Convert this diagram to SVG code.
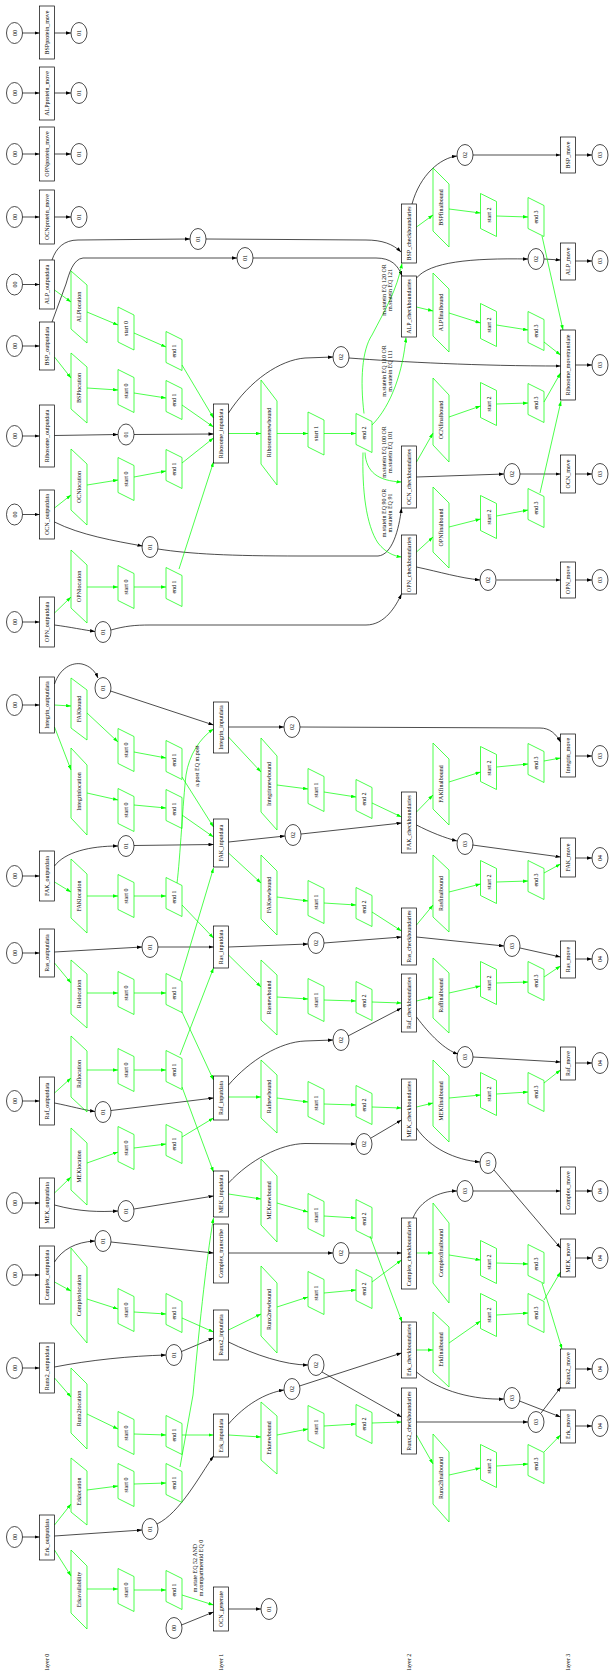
<svg xmlns="http://www.w3.org/2000/svg" xmlns:xlink="http://www.w3.org/1999/xlink" width="610" height="1672" viewBox="0 0 610 1672">
<style>
.r{fill:none;stroke:#000;stroke-width:.7}
.p{fill:none;stroke:#0f0;stroke-width:.7}
.t{font-family:"Liberation Serif","Times New Roman",serif;font-size:6px;text-anchor:middle;fill:#000}
.k{fill:none;stroke:#000;stroke-width:.7;marker-end:url(#ak)}
.g{fill:none;stroke:#0f0;stroke-width:.7;marker-end:url(#ag)}
</style>
<defs>
<marker id="ak" viewBox="0 0 10 7" refX="10" refY="3.5" markerWidth="5" markerHeight="3.5" markerUnits="userSpaceOnUse" orient="auto"><path d="M0,0L10,3.5L0,7z" fill="#000"/></marker>
<marker id="ag" viewBox="0 0 10 7" refX="10" refY="3.5" markerWidth="5" markerHeight="3.5" markerUnits="userSpaceOnUse" orient="auto"><path d="M0,0L10,3.5L0,7z" fill="#0f0"/></marker>
<ellipse id="el" cx="0" cy="0" rx="8" ry="10.5" fill="none" stroke="#000" stroke-width="0.7"/>
<polygon id="st" points="-8,-21.5 8,-13.5 8,21.5 -8,13.5" fill="none" stroke="#0f0" stroke-width="0.7"/>
<polygon id="en" points="-8,-19.5 8,-11.5 8,19.5 -8,11.5" fill="none" stroke="#0f0" stroke-width="0.7"/>
</defs>
<rect width="610" height="1672" fill="#fff"/>
<g id="edges">
<path class="k" d="M22.5,33H39.5"/><path class="k" d="M54.5,33H71"/>
<path class="k" d="M22.5,93H39.5"/><path class="k" d="M54.5,93H71"/>
<path class="k" d="M22.5,154H39.5"/><path class="k" d="M54.5,154H71"/>
<path class="k" d="M22.5,217H39.5"/><path class="k" d="M54.5,217H71"/>
<path class="k" d="M22.5,284.5H39.5"/><path class="k" d="M22.5,346H39.5"/><path class="k" d="M22.5,436H39.5"/><path class="k" d="M22.5,514.5H39.5"/><path class="k" d="M22.5,622H39.5"/><path class="k" d="M22.5,705H39.5"/><path class="k" d="M22.5,876H39.5"/><path class="k" d="M22.5,953H39.5"/><path class="k" d="M22.5,1101H39.5"/><path class="k" d="M22.5,1203H39.5"/><path class="k" d="M22.5,1275H39.5"/><path class="k" d="M22.5,1368H39.5"/><path class="k" d="M22.5,1537H39.5"/>
<path class="k" d="M52,260C56,248 64,240 78,240L190,239"/>
<path class="k" d="M206,239L366,240C382,240 393,244 401,252"/>
<path class="k" d="M52,322L66,284C69,274 73,259 83,258L237,258"/>
<path class="k" d="M253,258L376,258C391,258 398,265 402,276"/>
<path class="k" d="M54.5,435.5L118,434.5"/>
<path class="k" d="M134,434.5L213.5,434"/>
<path class="k" d="M54.5,522C80,535 115,541 142.5,546"/>
<path class="k" d="M158,549C190,554 230,556 300,556L378,556C392,555 399,530 401.5,508"/>
<path class="k" d="M54.5,625C70,627 84,630 95,631.5"/>
<path class="k" d="M111,630C125,626 135,625 150,625L366,625C385,625 396,606 401.5,594"/>
<path class="k" d="M54.5,684C60,668 72,662 82,664C90,666 95,671 98,678"/>
<path class="k" d="M110.5,691L213.5,725"/>
<path class="k" d="M54.5,866C65,852 90,846 118,846"/>
<path class="k" d="M134,845.5L213.5,844.5"/>
<path class="k" d="M54.5,952L142,947"/>
<path class="k" d="M158,947L213.5,947"/>
<path class="k" d="M54.5,1103C70,1106 84,1110 95,1111.5"/>
<path class="k" d="M111,1110.5L213.5,1098"/>
<path class="k" d="M54.5,1205C80,1212 100,1212 118,1211"/>
<path class="k" d="M134,1209L213.5,1196"/>
<path class="k" d="M54.5,1262C62,1250 75,1242 95,1241"/>
<path class="k" d="M111,1242L213.5,1253"/>
<path class="k" d="M54.5,1367C90,1360 130,1356 166,1355"/>
<path class="k" d="M181.5,1351.5L213.5,1338"/>
<path class="k" d="M54.5,1536L142,1530"/>
<path class="k" d="M157,1524C180,1513 200,1475 213.5,1456"/>
<path class="k" d="M181.5,1625L213.5,1612"/>
<path class="k" d="M228.5,413C250,380 280,360 305,358L333,357"/>
<path class="k" d="M349,358C400,362 480,366 560.5,366"/>
<path class="k" d="M228.5,727L284,727"/>
<path class="k" d="M300,727L540,728C550,728 556,734 560.5,742"/>
<path class="k" d="M228.5,842L285,836"/>
<path class="k" d="M301,834L401.5,823"/>
<path class="k" d="M228.5,947L308,944"/>
<path class="k" d="M324,943L401.5,937"/>
<path class="k" d="M228.5,1085C250,1060 280,1042 305,1041L333,1040"/>
<path class="k" d="M348,1036L401.5,1008"/>
<path class="k" d="M228.5,1183C250,1160 280,1144 305,1143.5L356,1144"/>
<path class="k" d="M371,1138L401.5,1120"/>
<path class="k" d="M228.5,1253L333,1253"/>
<path class="k" d="M349,1253L401.5,1253"/>
<path class="k" d="M228.5,1342C255,1355 285,1365 308,1365"/>
<path class="k" d="M322,1372L401.5,1417"/>
<path class="k" d="M228.5,1424C245,1405 265,1393 284,1390"/>
<path class="k" d="M299.5,1386L401.5,1353"/>
<path class="k" d="M228.5,1609L261,1609"/>
<path class="k" d="M412,204C420,175 440,158 457,156"/>
<path class="k" d="M473,155L560.5,155"/>
<path class="k" d="M416.5,278C430,262 470,258 528,259"/>
<path class="k" d="M544,259L560.5,260"/>
<path class="k" d="M416.5,477L504,474"/>
<path class="k" d="M520,474L560.5,474"/>
<path class="k" d="M416.5,567C440,572 460,578 480,580"/>
<path class="k" d="M496.5,580L560.5,580"/>
<path class="k" d="M416.5,825C430,832 445,838 457,841"/>
<path class="k" d="M472.5,845L560.5,857"/>
<path class="k" d="M416.5,937L504,946"/>
<path class="k" d="M520,948L560.5,957"/>
<path class="k" d="M416.5,1017C430,1035 445,1050 458,1054"/>
<path class="k" d="M473,1057L560.5,1062"/>
<path class="k" d="M416.5,1128C430,1148 455,1160 480,1162"/>
<path class="k" d="M494,1170L560.5,1248"/>
<path class="k" d="M413,1218C420,1200 440,1191 457,1191"/>
<path class="k" d="M473,1191L560.5,1191"/>
<path class="k" d="M416.5,1372C440,1392 475,1400 504,1399"/>
<path class="k" d="M519.5,1401L560.5,1417"/>
<path class="k" d="M416.5,1422L528,1422"/>
<path class="k" d="M541,1413L561,1387"/>
<path class="k" d="M575.5,155H592"/><path class="k" d="M575.5,261H592"/><path class="k" d="M575.5,365H592"/><path class="k" d="M575.5,474H592"/><path class="k" d="M575.5,580H592"/><path class="k" d="M575.5,756H592"/><path class="k" d="M575.5,858H592"/><path class="k" d="M575.5,959H592"/><path class="k" d="M575.5,1063H592"/><path class="k" d="M575.5,1191H592"/><path class="k" d="M575.5,1258H592"/><path class="k" d="M575.5,1369H592"/><path class="k" d="M575.5,1426H592"/>
<path class="g" d="M54.5,290L71,302"/><path class="g" d="M87,312L118,325"/><path class="g" d="M134,333L166,347"/><path class="g" d="M182,365L213.5,418"/>
<path class="g" d="M54.5,357L71,378"/><path class="g" d="M87,388L118,390"/><path class="g" d="M134,393L166,398"/><path class="g" d="M182,405L213.5,427"/>
<path class="g" d="M54.5,508L71,495"/><path class="g" d="M87,485L118,480"/><path class="g" d="M134,477L166,471"/><path class="g" d="M182,463L213.5,438"/>
<path class="g" d="M54.5,613L71,597"/><path class="g" d="M87,587L118,587"/><path class="g" d="M134,587L166,587"/><path class="g" d="M179,569L213.5,462"/>
<path class="g" d="M54.5,705L71,706"/><path class="g" d="M54.5,727L71,770"/><path class="g" d="M87,713L118,742"/><path class="g" d="M134,752L166,758"/><path class="g" d="M182,777L213.5,827"/>
<path class="g" d="M87,793L118,800"/><path class="g" d="M134,805L166,808"/><path class="g" d="M182,815L213.5,837"/>
<path class="g" d="M54.5,882L71,892"/><path class="g" d="M87,896L118,896"/><path class="g" d="M134,896L166,896"/><path class="g" d="M182,905L213.5,938"/>
<path class="g" d="M177,883C180,860 183,800 186,775C189,755 200,738 213.5,729"/>
<path class="g" d="M54.5,963L71,983"/><path class="g" d="M87,993L118,993"/><path class="g" d="M134,993L166,993"/><path class="g" d="M180,980L213.5,868"/><path class="g" d="M182,1012L213.5,1080"/>
<path class="g" d="M54.5,1093L71,1078"/><path class="g" d="M87,1070L118,1070"/><path class="g" d="M134,1070L166,1070"/><path class="g" d="M180,1055L213.5,968"/><path class="g" d="M182,1087L213.5,1172"/>
<path class="g" d="M54.5,1193L71,1177"/><path class="g" d="M87,1163L118,1152"/><path class="g" d="M134,1148L166,1144"/><path class="g" d="M182,1137L213.5,1118"/>
<path class="g" d="M54.5,1282L71,1291"/><path class="g" d="M87,1299L118,1309"/><path class="g" d="M134,1312L166,1314"/><path class="g" d="M182,1318L213.5,1332"/>
<path class="g" d="M54.5,1378L71,1397"/><path class="g" d="M87,1414L118,1429"/><path class="g" d="M134,1434L166,1435"/><path class="g" d="M182,1435L213.5,1435"/>
<path class="g" d="M54.5,1525L71,1504"/><path class="g" d="M87,1490L118,1486"/><path class="g" d="M134,1484L166,1483"/><path class="g" d="M180,1467L193,1395C198,1340 206,1260 213.5,1218"/>
<path class="g" d="M54.5,1550L71,1576"/><path class="g" d="M87,1589L118,1589"/><path class="g" d="M134,1590L166,1590"/><path class="g" d="M182,1595L213.5,1605"/>
<path class="g" d="M228.5,433.5L261,433.5"/><path class="g" d="M277,433.5L308,433.5"/><path class="g" d="M324,433.5L356,433.5"/>
<path class="g" d="M372,425C392,405 403,370 406,337.5"/>
<path class="g" d="M364,413.5C360,380 362,350 372,335C385,310 397,290 402,263.5"/>
<path class="g" d="M365,452.5C366,472 378,481 401.5,482"/>
<path class="g" d="M363,452.5C362,490 366,525 378,543C386,553 394,556 401.5,557"/>
<path class="g" d="M228.5,737L261,772"/><path class="g" d="M277,785L308,789"/><path class="g" d="M324,792L356,797"/><path class="g" d="M372,803L401.5,817"/>
<path class="g" d="M228.5,853L261,883"/><path class="g" d="M277,897L308,901"/><path class="g" d="M324,903L356,905"/><path class="g" d="M372,912L401.5,931"/>
<path class="g" d="M228.5,955L261,987"/><path class="g" d="M277,997L308,999"/><path class="g" d="M324,1000L356,1001"/><path class="g" d="M372,1002L401.5,1003"/>
<path class="g" d="M228.5,1097L261,1097"/><path class="g" d="M277,1098L308,1102"/><path class="g" d="M324,1104L356,1105"/><path class="g" d="M372,1107L401.5,1108"/>
<path class="g" d="M228.5,1194L261,1199"/><path class="g" d="M277,1203L308,1212"/><path class="g" d="M324,1216L356,1218"/><path class="g" d="M370,1236L402,1322"/>
<path class="g" d="M228.5,1330L261,1314"/><path class="g" d="M277,1307L308,1297"/><path class="g" d="M324,1293L356,1290"/><path class="g" d="M372,1282L401.5,1260"/>
<path class="g" d="M228.5,1435L261,1437"/><path class="g" d="M277,1435L308,1429"/><path class="g" d="M324,1426L356,1424"/><path class="g" d="M372,1423L401.5,1422"/>
<path class="g" d="M416.5,227L433,215"/><path class="g" d="M449,209L480.5,213"/><path class="g" d="M496.5,216L528,217"/><path class="g" d="M542,236L563,330"/>
<path class="g" d="M416.5,307L433,311"/><path class="g" d="M449,313L480.5,323"/><path class="g" d="M496.5,325L528,330"/><path class="g" d="M544,342L560.5,355"/>
<path class="g" d="M416.5,462L433,433"/><path class="g" d="M449,417L480.5,406"/><path class="g" d="M496.5,404L528,403"/><path class="g" d="M544,402L560.5,373"/>
<path class="g" d="M416.5,552L433,537"/><path class="g" d="M449,527L480.5,519"/><path class="g" d="M496.5,516L528,510"/><path class="g" d="M540,493L561,401"/>
<path class="g" d="M416.5,812L433,795"/><path class="g" d="M449,782L480.5,772"/><path class="g" d="M496.5,767L528,764"/><path class="g" d="M544,761L560.5,758"/>
<path class="g" d="M416.5,925L433,905"/><path class="g" d="M449,892L480.5,884"/><path class="g" d="M496.5,882L528,881"/><path class="g" d="M544,873L560.5,864"/>
<path class="g" d="M416.5,1001L433,997"/><path class="g" d="M449,993L480.5,986"/><path class="g" d="M496.5,983L528,982"/><path class="g" d="M544,977L560.5,966"/>
<path class="g" d="M416.5,1107L433,1103"/><path class="g" d="M449,1098L480.5,1095"/><path class="g" d="M496.5,1094L528,1092"/><path class="g" d="M544,1083L560.5,1070"/>
<path class="g" d="M416.5,1253L433,1253"/><path class="g" d="M449,1255L480.5,1260"/><path class="g" d="M496.5,1263L528,1264"/><path class="g" d="M542,1283L562,1349"/>
<path class="g" d="M416.5,1350L433,1350"/><path class="g" d="M449,1343L480.5,1321"/><path class="g" d="M496.5,1315L528,1313"/><path class="g" d="M544,1300L560.5,1272"/>
<path class="g" d="M416.5,1435L433,1464"/><path class="g" d="M449,1475L480.5,1468"/><path class="g" d="M496.5,1466L528,1464"/><path class="g" d="M544,1452L560.5,1435"/>
<g id="edge-labels">
<text class="t" transform="translate(199,766) rotate(-90)">a.post EQ m.post</text>
<text class="t" transform="translate(197,1568) rotate(-90)">m.state EQ 52 AND</text>
<text class="t" transform="translate(203,1568) rotate(-90)">m.compartmentid EQ 0</text>
<text class="t" transform="translate(386,290) rotate(-90)">m.statein EQ 120 OR</text>
<text class="t" transform="translate(392,290) rotate(-90)">m.statein EQ 121</text>
<text class="t" transform="translate(386,371) rotate(-90)">m.statein EQ 110 OR</text>
<text class="t" transform="translate(392,371) rotate(-90)">m.statein EQ 111</text>
<text class="t" transform="translate(386,452) rotate(-90)">m.statein EQ 100 OR</text>
<text class="t" transform="translate(392,452) rotate(-90)">m.statein EQ 101</text>
<text class="t" transform="translate(386,513) rotate(-90)">m.statein EQ 90 OR</text>
<text class="t" transform="translate(392,513) rotate(-90)">m.statein EQ 91</text>
</g>
</g>
<g id="ellipses">
<g id="e0_33"><use href="#el" x="14.5" y="33"/><text class="t" transform="translate(16.5,33) rotate(-90)">00</text></g>
<g id="e0_93"><use href="#el" x="14.5" y="93"/><text class="t" transform="translate(16.5,93) rotate(-90)">00</text></g>
<g id="e0_154"><use href="#el" x="14.5" y="154"/><text class="t" transform="translate(16.5,154) rotate(-90)">00</text></g>
<g id="e0_217"><use href="#el" x="14.5" y="217"/><text class="t" transform="translate(16.5,217) rotate(-90)">00</text></g>
<g id="e0_284"><use href="#el" x="14.5" y="284.5"/><text class="t" transform="translate(16.5,284.5) rotate(-90)">00</text></g>
<g id="e0_346"><use href="#el" x="14.5" y="346"/><text class="t" transform="translate(16.5,346) rotate(-90)">00</text></g>
<g id="e0_436"><use href="#el" x="14.5" y="436"/><text class="t" transform="translate(16.5,436) rotate(-90)">00</text></g>
<g id="e0_514"><use href="#el" x="14.5" y="514.5"/><text class="t" transform="translate(16.5,514.5) rotate(-90)">00</text></g>
<g id="e0_622"><use href="#el" x="14.5" y="622"/><text class="t" transform="translate(16.5,622) rotate(-90)">00</text></g>
<g id="e0_705"><use href="#el" x="14.5" y="705"/><text class="t" transform="translate(16.5,705) rotate(-90)">00</text></g>
<g id="e0_876"><use href="#el" x="14.5" y="876"/><text class="t" transform="translate(16.5,876) rotate(-90)">00</text></g>
<g id="e0_953"><use href="#el" x="14.5" y="953"/><text class="t" transform="translate(16.5,953) rotate(-90)">00</text></g>
<g id="e0_1101"><use href="#el" x="14.5" y="1101"/><text class="t" transform="translate(16.5,1101) rotate(-90)">00</text></g>
<g id="e0_1203"><use href="#el" x="14.5" y="1203"/><text class="t" transform="translate(16.5,1203) rotate(-90)">00</text></g>
<g id="e0_1275"><use href="#el" x="14.5" y="1275"/><text class="t" transform="translate(16.5,1275) rotate(-90)">00</text></g>
<g id="e0_1368"><use href="#el" x="14.5" y="1368"/><text class="t" transform="translate(16.5,1368) rotate(-90)">00</text></g>
<g id="e0_1537"><use href="#el" x="14.5" y="1537"/><text class="t" transform="translate(16.5,1537) rotate(-90)">00</text></g>
<g id="e1_33"><use href="#el" x="79" y="33"/><text class="t" transform="translate(81,33) rotate(-90)">01</text></g>
<g id="e1_93"><use href="#el" x="79" y="93"/><text class="t" transform="translate(81,93) rotate(-90)">01</text></g>
<g id="e1_154"><use href="#el" x="79" y="154"/><text class="t" transform="translate(81,154) rotate(-90)">01</text></g>
<g id="e1_217"><use href="#el" x="79" y="217"/><text class="t" transform="translate(81,217) rotate(-90)">01</text></g>
<g id="e1_alp"><use href="#el" x="198" y="239"/><text class="t" transform="translate(200,239) rotate(-90)">01</text></g>
<g id="e1_bsp"><use href="#el" x="245" y="258"/><text class="t" transform="translate(247,258) rotate(-90)">01</text></g>
<g id="e1_ribo"><use href="#el" x="126" y="434.5"/><text class="t" transform="translate(128,434.5) rotate(-90)">01</text></g>
<g id="e1_ocn"><use href="#el" x="150" y="547"/><text class="t" transform="translate(152,547) rotate(-90)">01</text></g>
<g id="e1_opn"><use href="#el" x="103" y="632"/><text class="t" transform="translate(105,632) rotate(-90)">01</text></g>
<g id="e1_integ"><use href="#el" x="103" y="688"/><text class="t" transform="translate(105,688) rotate(-90)">01</text></g>
<g id="e1_fak"><use href="#el" x="126" y="846"/><text class="t" transform="translate(128,846) rotate(-90)">01</text></g>
<g id="e1_ras"><use href="#el" x="150" y="947"/><text class="t" transform="translate(152,947) rotate(-90)">01</text></g>
<g id="e1_raf"><use href="#el" x="103" y="1112"/><text class="t" transform="translate(105,1112) rotate(-90)">01</text></g>
<g id="e1_mek"><use href="#el" x="126" y="1211"/><text class="t" transform="translate(128,1211) rotate(-90)">01</text></g>
<g id="e1_complex"><use href="#el" x="103" y="1241"/><text class="t" transform="translate(105,1241) rotate(-90)">01</text></g>
<g id="e1_runx2"><use href="#el" x="174" y="1355"/><text class="t" transform="translate(176,1355) rotate(-90)">01</text></g>
<g id="e1_erk"><use href="#el" x="150" y="1529"/><text class="t" transform="translate(152,1529) rotate(-90)">01</text></g>
<g id="e2_ribo"><use href="#el" x="341" y="357"/><text class="t" transform="translate(343,357) rotate(-90)">02</text></g>
<g id="e2_integ"><use href="#el" x="292" y="727"/><text class="t" transform="translate(294,727) rotate(-90)">02</text></g>
<g id="e2_fak"><use href="#el" x="293" y="835"/><text class="t" transform="translate(295,835) rotate(-90)">02</text></g>
<g id="e2_ras"><use href="#el" x="316" y="943"/><text class="t" transform="translate(318,943) rotate(-90)">02</text></g>
<g id="e2_raf"><use href="#el" x="341" y="1040"/><text class="t" transform="translate(343,1040) rotate(-90)">02</text></g>
<g id="e2_mek"><use href="#el" x="364" y="1144"/><text class="t" transform="translate(366,1144) rotate(-90)">02</text></g>
<g id="e2_complex"><use href="#el" x="341" y="1253"/><text class="t" transform="translate(343,1253) rotate(-90)">02</text></g>
<g id="e2_runx2"><use href="#el" x="316" y="1365"/><text class="t" transform="translate(318,1365) rotate(-90)">02</text></g>
<g id="e2_erk"><use href="#el" x="292" y="1389"/><text class="t" transform="translate(294,1389) rotate(-90)">02</text></g>
<g id="e_ocngen_00"><use href="#el" x="174" y="1628"/><text class="t" transform="translate(176,1628) rotate(-90)">00</text></g>
<g id="e_ocngen_01"><use href="#el" x="269" y="1609"/><text class="t" transform="translate(271,1609) rotate(-90)">01</text></g>
<g id="e2_bsp"><use href="#el" x="465" y="155"/><text class="t" transform="translate(467,155) rotate(-90)">02</text></g>
<g id="e2_alp"><use href="#el" x="536" y="259"/><text class="t" transform="translate(538,259) rotate(-90)">02</text></g>
<g id="e2_ocn"><use href="#el" x="512" y="474"/><text class="t" transform="translate(514,474) rotate(-90)">02</text></g>
<g id="e2_opn"><use href="#el" x="488" y="580"/><text class="t" transform="translate(490,580) rotate(-90)">02</text></g>
<g id="e3_fak"><use href="#el" x="465" y="844"/><text class="t" transform="translate(467,844) rotate(-90)">03</text></g>
<g id="e3_ras"><use href="#el" x="512" y="946"/><text class="t" transform="translate(514,946) rotate(-90)">03</text></g>
<g id="e3_raf"><use href="#el" x="465" y="1057"/><text class="t" transform="translate(467,1057) rotate(-90)">03</text></g>
<g id="e3_mek"><use href="#el" x="488" y="1163"/><text class="t" transform="translate(490,1163) rotate(-90)">03</text></g>
<g id="e3_complex"><use href="#el" x="465" y="1191"/><text class="t" transform="translate(467,1191) rotate(-90)">03</text></g>
<g id="e3_erk"><use href="#el" x="512" y="1398"/><text class="t" transform="translate(514,1398) rotate(-90)">03</text></g>
<g id="e3_runx2"><use href="#el" x="536" y="1422"/><text class="t" transform="translate(538,1422) rotate(-90)">03</text></g>
<g id="m3_155"><use href="#el" x="600" y="155"/><text class="t" transform="translate(602,155) rotate(-90)">03</text></g>
<g id="m3_261"><use href="#el" x="600" y="261"/><text class="t" transform="translate(602,261) rotate(-90)">03</text></g>
<g id="m3_365"><use href="#el" x="600" y="365"/><text class="t" transform="translate(602,365) rotate(-90)">03</text></g>
<g id="m3_474"><use href="#el" x="600" y="474"/><text class="t" transform="translate(602,474) rotate(-90)">03</text></g>
<g id="m3_580"><use href="#el" x="600" y="580"/><text class="t" transform="translate(602,580) rotate(-90)">03</text></g>
<g id="m3_756"><use href="#el" x="600" y="756"/><text class="t" transform="translate(602,756) rotate(-90)">03</text></g>
<g id="m4_858"><use href="#el" x="600" y="858"/><text class="t" transform="translate(602,858) rotate(-90)">04</text></g>
<g id="m4_959"><use href="#el" x="600" y="959"/><text class="t" transform="translate(602,959) rotate(-90)">04</text></g>
<g id="m4_1063"><use href="#el" x="600" y="1063"/><text class="t" transform="translate(602,1063) rotate(-90)">04</text></g>
<g id="m4_1191"><use href="#el" x="600" y="1191"/><text class="t" transform="translate(602,1191) rotate(-90)">04</text></g>
<g id="m4_1258"><use href="#el" x="600" y="1258"/><text class="t" transform="translate(602,1258) rotate(-90)">04</text></g>
<g id="m4_1369"><use href="#el" x="600" y="1369"/><text class="t" transform="translate(602,1369) rotate(-90)">04</text></g>
<g id="m4_1426"><use href="#el" x="600" y="1426"/><text class="t" transform="translate(602,1426) rotate(-90)">04</text></g>
</g>
<g id="rects">
<g id="BSPprotein_move"><rect class="r" x="39.5" y="6" width="15" height="53"/><text class="t" transform="translate(49,32.5) rotate(-90)">BSPprotein_move</text></g>
<g id="ALPprotein_move"><rect class="r" x="39.5" y="67" width="15" height="53"/><text class="t" transform="translate(49,93.5) rotate(-90)">ALPprotein_move</text></g>
<g id="OPNprotein_move"><rect class="r" x="39.5" y="127" width="15" height="54"/><text class="t" transform="translate(49,154) rotate(-90)">OPNprotein_move</text></g>
<g id="OCNprotein_move"><rect class="r" x="39.5" y="190" width="15" height="54"/><text class="t" transform="translate(49,217) rotate(-90)">OCNprotein_move</text></g>
<g id="ALP_outputdata"><rect class="r" x="39.5" y="260" width="15" height="49"/><text class="t" transform="translate(49,284.5) rotate(-90)">ALP_outputdata</text></g>
<g id="BSP_outputdata"><rect class="r" x="39.5" y="322" width="15" height="48"/><text class="t" transform="translate(49,346) rotate(-90)">BSP_outputdata</text></g>
<g id="Ribosome_outputdata"><rect class="r" x="39.5" y="405" width="15" height="62"/><text class="t" transform="translate(49,436) rotate(-90)">Ribosome_outputdata</text></g>
<g id="OCN_outputdata"><rect class="r" x="39.5" y="490" width="15" height="49"/><text class="t" transform="translate(49,514.5) rotate(-90)">OCN_outputdata</text></g>
<g id="OPN_outputdata"><rect class="r" x="39.5" y="597" width="15" height="50"/><text class="t" transform="translate(49,622) rotate(-90)">OPN_outputdata</text></g>
<g id="Integrin_outputdata"><rect class="r" x="39.5" y="677" width="15" height="56"/><text class="t" transform="translate(49,705) rotate(-90)">Integrin_outputdata</text></g>
<g id="FAK_outputdata"><rect class="r" x="39.5" y="851" width="15" height="50"/><text class="t" transform="translate(49,876) rotate(-90)">FAK_outputdata</text></g>
<g id="Ras_outputdata"><rect class="r" x="39.5" y="929" width="15" height="48"/><text class="t" transform="translate(49,953) rotate(-90)">Ras_outputdata</text></g>
<g id="Raf_outputdata"><rect class="r" x="39.5" y="1077" width="15" height="48"/><text class="t" transform="translate(49,1101) rotate(-90)">Raf_outputdata</text></g>
<g id="MEK_outputdata"><rect class="r" x="39.5" y="1178" width="15" height="50"/><text class="t" transform="translate(49,1203) rotate(-90)">MEK_outputdata</text></g>
<g id="Complex_outputdata"><rect class="r" x="39.5" y="1246" width="15" height="58"/><text class="t" transform="translate(49,1275) rotate(-90)">Complex_outputdata</text></g>
<g id="Runx2_outputdata"><rect class="r" x="39.5" y="1343" width="15" height="50"/><text class="t" transform="translate(49,1368) rotate(-90)">Runx2_outputdata</text></g>
<g id="Erk_outputdata"><rect class="r" x="39.5" y="1515" width="15" height="45"/><text class="t" transform="translate(49,1537.5) rotate(-90)">Erk_outputdata</text></g>
<g id="Ribosome_inputdata"><rect class="r" x="213.5" y="404" width="15" height="59"/><text class="t" transform="translate(223,433.5) rotate(-90)">Ribosome_inputdata</text></g>
<g id="Integrin_inputdata"><rect class="r" x="213.5" y="702" width="15" height="51"/><text class="t" transform="translate(223,727.5) rotate(-90)">Integrin_inputdata</text></g>
<g id="FAK_inputdata"><rect class="r" x="213.5" y="819" width="15" height="48"/><text class="t" transform="translate(223,843) rotate(-90)">FAK_inputdata</text></g>
<g id="Ras_inputdata"><rect class="r" x="213.5" y="926" width="15" height="42"/><text class="t" transform="translate(223,947) rotate(-90)">Ras_inputdata</text></g>
<g id="Raf_inputdata"><rect class="r" x="213.5" y="1076" width="15" height="44"/><text class="t" transform="translate(223,1098) rotate(-90)">Raf_inputdata</text></g>
<g id="MEK_inputdata"><rect class="r" x="213.5" y="1171" width="15" height="46"/><text class="t" transform="translate(223,1194) rotate(-90)">MEK_inputdata</text></g>
<g id="Complex_transcribe"><rect class="r" x="213.5" y="1224" width="15" height="59"/><text class="t" transform="translate(223,1253.5) rotate(-90)">Complex_transcribe</text></g>
<g id="Runx2_inputdata"><rect class="r" x="213.5" y="1310" width="15" height="50"/><text class="t" transform="translate(223,1335) rotate(-90)">Runx2_inputdata</text></g>
<g id="Erk_inputdata"><rect class="r" x="213.5" y="1414" width="15" height="43"/><text class="t" transform="translate(223,1435.5) rotate(-90)">Erk_inputdata</text></g>
<g id="OCN_generate"><rect class="r" x="213.5" y="1587" width="15" height="44"/><text class="t" transform="translate(223,1609) rotate(-90)">OCN_generate</text></g>
<g id="BSP_checkboundaries"><rect class="r" x="401.5" y="204" width="15" height="59"/><text class="t" transform="translate(411,233.5) rotate(-90)">BSP_checkboundaries</text></g>
<g id="ALP_checkboundaries"><rect class="r" x="401.5" y="276" width="15" height="61"/><text class="t" transform="translate(411,306.5) rotate(-90)">ALP_checkboundaries</text></g>
<g id="OCN_checkboundaries"><rect class="r" x="401.5" y="446" width="15" height="62"/><text class="t" transform="translate(411,477) rotate(-90)">OCN_checkboundaries</text></g>
<g id="OPN_checkboundaries"><rect class="r" x="401.5" y="535" width="15" height="59"/><text class="t" transform="translate(411,564.5) rotate(-90)">OPN_checkboundaries</text></g>
<g id="FAK_checkboundaries"><rect class="r" x="401.5" y="792" width="15" height="61"/><text class="t" transform="translate(411,822.5) rotate(-90)">FAK_checkboundaries</text></g>
<g id="Ras_checkboundaries"><rect class="r" x="401.5" y="908" width="15" height="57"/><text class="t" transform="translate(411,936.5) rotate(-90)">Ras_checkboundaries</text></g>
<g id="Raf_checkboundaries"><rect class="r" x="401.5" y="974" width="15" height="58"/><text class="t" transform="translate(411,1003) rotate(-90)">Raf_checkboundaries</text></g>
<g id="MEK_checkboundaries"><rect class="r" x="401.5" y="1079" width="15" height="61"/><text class="t" transform="translate(411,1109.5) rotate(-90)">MEK_checkboundaries</text></g>
<g id="Complex_checkboundaries"><rect class="r" x="401.5" y="1218" width="15" height="71"/><text class="t" transform="translate(411,1253.5) rotate(-90)">Complex_checkboundaries</text></g>
<g id="Erk_checkboundaries"><rect class="r" x="401.5" y="1322" width="15" height="56"/><text class="t" transform="translate(411,1350) rotate(-90)">Erk_checkboundaries</text></g>
<g id="Runx2_checkboundaries"><rect class="r" x="401.5" y="1388" width="15" height="66"/><text class="t" transform="translate(411,1421) rotate(-90)">Runx2_checkboundaries</text></g>
<g id="BSP_move"><rect class="r" x="560.5" y="137" width="15" height="36"/><text class="t" transform="translate(570,155) rotate(-90)">BSP_move</text></g>
<g id="ALP_move"><rect class="r" x="560.5" y="243" width="15" height="37"/><text class="t" transform="translate(570,261.5) rotate(-90)">ALP_move</text></g>
<g id="Ribosome_movetranslate"><rect class="r" x="560.5" y="330" width="15" height="70"/><text class="t" transform="translate(570,365) rotate(-90)">Ribosome_movetranslate</text></g>
<g id="OCN_move"><rect class="r" x="560.5" y="455" width="15" height="38"/><text class="t" transform="translate(570,474) rotate(-90)">OCN_move</text></g>
<g id="OPN_move"><rect class="r" x="560.5" y="562" width="15" height="36"/><text class="t" transform="translate(570,580) rotate(-90)">OPN_move</text></g>
<g id="Integrin_move"><rect class="r" x="560.5" y="734" width="15" height="43"/><text class="t" transform="translate(570,755.5) rotate(-90)">Integrin_move</text></g>
<g id="FAK_move"><rect class="r" x="560.5" y="838" width="15" height="39"/><text class="t" transform="translate(570,857.5) rotate(-90)">FAK_move</text></g>
<g id="Ras_move"><rect class="r" x="560.5" y="941" width="15" height="37"/><text class="t" transform="translate(570,959.5) rotate(-90)">Ras_move</text></g>
<g id="Raf_move"><rect class="r" x="560.5" y="1047" width="15" height="33"/><text class="t" transform="translate(570,1063.5) rotate(-90)">Raf_move</text></g>
<g id="Complex_move"><rect class="r" x="560.5" y="1167" width="15" height="47"/><text class="t" transform="translate(570,1190.5) rotate(-90)">Complex_move</text></g>
<g id="MEK_move"><rect class="r" x="560.5" y="1239" width="15" height="38"/><text class="t" transform="translate(570,1258) rotate(-90)">MEK_move</text></g>
<g id="Runx2_move"><rect class="r" x="560.5" y="1349" width="15" height="39"/><text class="t" transform="translate(570,1368.5) rotate(-90)">Runx2_move</text></g>
<g id="Erk_move"><rect class="r" x="560.5" y="1410" width="15" height="33"/><text class="t" transform="translate(570,1426.5) rotate(-90)">Erk_move</text></g>
</g>
<g id="parallelograms">
<g id="ALPlocation"><polygon class="p" points="71,271 87,285 87,343 71,329"/><text class="t" transform="translate(81,307) rotate(-90)">ALPlocation</text></g>
<g id="BSPlocation"><polygon class="p" points="71,353 87,367 87,423 71,409"/><text class="t" transform="translate(81,388) rotate(-90)">BSPlocation</text></g>
<g id="OCNlocation"><polygon class="p" points="71,449 87,464 87,525 71,510"/><text class="t" transform="translate(81,487) rotate(-90)">OCNlocation</text></g>
<g id="OPNlocation"><polygon class="p" points="71,550 87,565 87,623 71,608"/><text class="t" transform="translate(81,586.5) rotate(-90)">OPNlocation</text></g>
<g id="FAKbound"><polygon class="p" points="71,678 87,690 87,740 71,728"/><text class="t" transform="translate(81,709) rotate(-90)">FAKbound</text></g>
<g id="Integrinlocation"><polygon class="p" points="71,748 87,765 87,835 71,818"/><text class="t" transform="translate(81,791.5) rotate(-90)">Integrinlocation</text></g>
<g id="FAKlocation"><polygon class="p" points="71,859 87,874 87,933 71,918"/><text class="t" transform="translate(81,896) rotate(-90)">FAKlocation</text></g>
<g id="Raslocation"><polygon class="p" points="71,960 87,974 87,1028 71,1014"/><text class="t" transform="translate(81,994) rotate(-90)">Raslocation</text></g>
<g id="Raflocation"><polygon class="p" points="71,1036 87,1051 87,1112 71,1097"/><text class="t" transform="translate(81,1074) rotate(-90)">Raflocation</text></g>
<g id="MEKlocation"><polygon class="p" points="71,1128 87,1143 87,1205 71,1190"/><text class="t" transform="translate(81,1166.5) rotate(-90)">MEKlocation</text></g>
<g id="Complexlocation"><polygon class="p" points="71,1248 87,1267 87,1343 71,1324"/><text class="t" transform="translate(81,1295.5) rotate(-90)">Complexlocation</text></g>
<g id="Runx2location"><polygon class="p" points="71,1368 87,1384 87,1449 71,1433"/><text class="t" transform="translate(81,1408.5) rotate(-90)">Runx2location</text></g>
<g id="Erklocation"><polygon class="p" points="71,1458 87,1471 87,1525 71,1512"/><text class="t" transform="translate(81,1491.5) rotate(-90)">Erklocation</text></g>
<g id="Erkavailability"><polygon class="p" points="71,1550 87,1566 87,1629 71,1613"/><text class="t" transform="translate(81,1589.5) rotate(-90)">Erkavailability</text></g>
<g id="Ribosomenewbound"><polygon class="p" points="261,380 277,401 277,485 261,464"/><text class="t" transform="translate(271,432.5) rotate(-90)">Ribosomenewbound</text></g>
<g id="Integrinnewbound"><polygon class="p" points="261,738 277,756 277,830 261,812"/><text class="t" transform="translate(271,784) rotate(-90)">Integrinnewbound</text></g>
<g id="FAKnewbound"><polygon class="p" points="261,855 277,871 277,935 261,919"/><text class="t" transform="translate(271,895) rotate(-90)">FAKnewbound</text></g>
<g id="Rasnewbound"><polygon class="p" points="261,960 277,975 277,1035 261,1020"/><text class="t" transform="translate(271,997.5) rotate(-90)">Rasnewbound</text></g>
<g id="Rafnewbound"><polygon class="p" points="261,1060 277,1075 277,1133 261,1118"/><text class="t" transform="translate(271,1096.5) rotate(-90)">Rafnewbound</text></g>
<g id="MEKnewbound"><polygon class="p" points="261,1159 277,1176 277,1242 261,1225"/><text class="t" transform="translate(271,1200.5) rotate(-90)">MEKnewbound</text></g>
<g id="Runx2newbound"><polygon class="p" points="261,1266 277,1283 277,1353 261,1336"/><text class="t" transform="translate(271,1309.5) rotate(-90)">Runx2newbound</text></g>
<g id="Erknewbound"><polygon class="p" points="261,1402 277,1416 277,1474 261,1460"/><text class="t" transform="translate(271,1438) rotate(-90)">Erknewbound</text></g>
<g id="BSPfinalbound"><polygon class="p" points="433,168 449,184 449,247 433,231"/><text class="t" transform="translate(443,207.5) rotate(-90)">BSPfinalbound</text></g>
<g id="ALPfinalbound"><polygon class="p" points="433,273 449,289 449,352 433,336"/><text class="t" transform="translate(443,312.5) rotate(-90)">ALPfinalbound</text></g>
<g id="OCNfinalbound"><polygon class="p" points="433,378 449,395 449,462 433,445"/><text class="t" transform="translate(443,420) rotate(-90)">OCNfinalbound</text></g>
<g id="OPNfinalbound"><polygon class="p" points="433,487 449,503 449,568 433,552"/><text class="t" transform="translate(443,527.5) rotate(-90)">OPNfinalbound</text></g>
<g id="FAKfinalbound"><polygon class="p" points="433,743 449,759 449,825 433,809"/><text class="t" transform="translate(443,784) rotate(-90)">FAKfinalbound</text></g>
<g id="Rasfinalbound"><polygon class="p" points="433,855 449,870 449,932 433,917"/><text class="t" transform="translate(443,893.5) rotate(-90)">Rasfinalbound</text></g>
<g id="Raffinalbound"><polygon class="p" points="433,958 449,973 449,1033 433,1018"/><text class="t" transform="translate(443,995.5) rotate(-90)">Raffinalbound</text></g>
<g id="MEKfinalbound"><polygon class="p" points="433,1060 449,1076 449,1142 433,1126"/><text class="t" transform="translate(443,1101) rotate(-90)">MEKfinalbound</text></g>
<g id="Complexfinalbound"><polygon class="p" points="433,1203 449,1223 449,1303 433,1283"/><text class="t" transform="translate(443,1253) rotate(-90)">Complexfinalbound</text></g>
<g id="Erkfinalbound"><polygon class="p" points="433,1312 449,1327 449,1387 433,1372"/><text class="t" transform="translate(443,1349.5) rotate(-90)">Erkfinalbound</text></g>
<g id="Runx2finalbound"><polygon class="p" points="433,1434 449,1452 449,1522 433,1504"/><text class="t" transform="translate(443,1478) rotate(-90)">Runx2finalbound</text></g>
</g>
<g id="steps">
<g id="s0_alp"><use href="#st" x="126" y="328.5"/><text class="t" transform="translate(128,328.5) rotate(-90)">start 0</text></g>
<g id="s0_bsp"><use href="#st" x="126" y="391"/><text class="t" transform="translate(128,391) rotate(-90)">start 0</text></g>
<g id="s0_ocn"><use href="#st" x="126" y="479"/><text class="t" transform="translate(128,479) rotate(-90)">start 0</text></g>
<g id="s0_opn"><use href="#st" x="126" y="587"/><text class="t" transform="translate(128,587) rotate(-90)">start 0</text></g>
<g id="s0_fakb"><use href="#st" x="126" y="750"/><text class="t" transform="translate(128,750) rotate(-90)">start 0</text></g>
<g id="s0_integ"><use href="#st" x="126" y="810"/><text class="t" transform="translate(128,810) rotate(-90)">start 0</text></g>
<g id="s0_fak"><use href="#st" x="126" y="896"/><text class="t" transform="translate(128,896) rotate(-90)">start 0</text></g>
<g id="s0_ras"><use href="#st" x="126" y="993"/><text class="t" transform="translate(128,993) rotate(-90)">start 0</text></g>
<g id="s0_raf"><use href="#st" x="126" y="1070"/><text class="t" transform="translate(128,1070) rotate(-90)">start 0</text></g>
<g id="s0_mek"><use href="#st" x="126" y="1148"/><text class="t" transform="translate(128,1148) rotate(-90)">start 0</text></g>
<g id="s0_complex"><use href="#st" x="126" y="1310"/><text class="t" transform="translate(128,1310) rotate(-90)">start 0</text></g>
<g id="s0_runx2"><use href="#st" x="126" y="1433"/><text class="t" transform="translate(128,1433) rotate(-90)">start 0</text></g>
<g id="s0_erk"><use href="#st" x="126" y="1485"/><text class="t" transform="translate(128,1485) rotate(-90)">start 0</text></g>
<g id="s0_erkav"><use href="#st" x="126" y="1590"/><text class="t" transform="translate(128,1590) rotate(-90)">start 0</text></g>
<g id="e1n_alp"><use href="#en" x="174" y="351"/><text class="t" transform="translate(176,351) rotate(-90)">end 1</text></g>
<g id="e1n_bsp"><use href="#en" x="174" y="400"/><text class="t" transform="translate(176,400) rotate(-90)">end 1</text></g>
<g id="e1n_ocn"><use href="#en" x="174" y="469"/><text class="t" transform="translate(176,469) rotate(-90)">end 1</text></g>
<g id="e1n_opn"><use href="#en" x="174" y="587"/><text class="t" transform="translate(176,587) rotate(-90)">end 1</text></g>
<g id="e1n_fakb"><use href="#en" x="174" y="760"/><text class="t" transform="translate(176,760) rotate(-90)">end 1</text></g>
<g id="e1n_integ"><use href="#en" x="174" y="809"/><text class="t" transform="translate(176,809) rotate(-90)">end 1</text></g>
<g id="e1n_fak"><use href="#en" x="174" y="897"/><text class="t" transform="translate(176,897) rotate(-90)">end 1</text></g>
<g id="e1n_ras"><use href="#en" x="174" y="993"/><text class="t" transform="translate(176,993) rotate(-90)">end 1</text></g>
<g id="e1n_raf"><use href="#en" x="174" y="1070"/><text class="t" transform="translate(176,1070) rotate(-90)">end 1</text></g>
<g id="e1n_mek"><use href="#en" x="174" y="1144"/><text class="t" transform="translate(176,1144) rotate(-90)">end 1</text></g>
<g id="e1n_complex"><use href="#en" x="174" y="1313"/><text class="t" transform="translate(176,1313) rotate(-90)">end 1</text></g>
<g id="e1n_runx2"><use href="#en" x="174" y="1435"/><text class="t" transform="translate(176,1435) rotate(-90)">end 1</text></g>
<g id="e1n_erk"><use href="#en" x="174" y="1483"/><text class="t" transform="translate(176,1483) rotate(-90)">end 1</text></g>
<g id="e1n_erkav"><use href="#en" x="174" y="1590"/><text class="t" transform="translate(176,1590) rotate(-90)">end 1</text></g>
<g id="s1_ribo"><use href="#st" x="316" y="433.5"/><text class="t" transform="translate(318,433.5) rotate(-90)">start 1</text></g>
<g id="s1_integ"><use href="#st" x="316" y="790"/><text class="t" transform="translate(318,790) rotate(-90)">start 1</text></g>
<g id="s1_fak"><use href="#st" x="316" y="902"/><text class="t" transform="translate(318,902) rotate(-90)">start 1</text></g>
<g id="s1_ras"><use href="#st" x="316" y="1000"/><text class="t" transform="translate(318,1000) rotate(-90)">start 1</text></g>
<g id="s1_raf"><use href="#st" x="316" y="1103"/><text class="t" transform="translate(318,1103) rotate(-90)">start 1</text></g>
<g id="s1_mek"><use href="#st" x="316" y="1215"/><text class="t" transform="translate(318,1215) rotate(-90)">start 1</text></g>
<g id="s1_runx2"><use href="#st" x="316" y="1293"/><text class="t" transform="translate(318,1293) rotate(-90)">start 1</text></g>
<g id="s1_erk"><use href="#st" x="316" y="1427"/><text class="t" transform="translate(318,1427) rotate(-90)">start 1</text></g>
<g id="e2n_ribo"><use href="#en" x="364" y="433"/><text class="t" transform="translate(366,433) rotate(-90)">end 2</text></g>
<g id="e2n_integ"><use href="#en" x="364" y="799"/><text class="t" transform="translate(366,799) rotate(-90)">end 2</text></g>
<g id="e2n_fak"><use href="#en" x="364" y="907"/><text class="t" transform="translate(366,907) rotate(-90)">end 2</text></g>
<g id="e2n_ras"><use href="#en" x="364" y="1001"/><text class="t" transform="translate(366,1001) rotate(-90)">end 2</text></g>
<g id="e2n_raf"><use href="#en" x="364" y="1105"/><text class="t" transform="translate(366,1105) rotate(-90)">end 2</text></g>
<g id="e2n_mek"><use href="#en" x="364" y="1219"/><text class="t" transform="translate(366,1219) rotate(-90)">end 2</text></g>
<g id="e2n_runx2"><use href="#en" x="364" y="1289"/><text class="t" transform="translate(366,1289) rotate(-90)">end 2</text></g>
<g id="e2n_erk"><use href="#en" x="364" y="1424"/><text class="t" transform="translate(366,1424) rotate(-90)">end 2</text></g>
<g id="s2_bsp"><use href="#st" x="488.5" y="215"/><text class="t" transform="translate(490.5,215) rotate(-90)">start 2</text></g>
<g id="s2_alp"><use href="#st" x="488.5" y="325"/><text class="t" transform="translate(490.5,325) rotate(-90)">start 2</text></g>
<g id="s2_ocn"><use href="#st" x="488.5" y="404"/><text class="t" transform="translate(490.5,404) rotate(-90)">start 2</text></g>
<g id="s2_opn"><use href="#st" x="488.5" y="517"/><text class="t" transform="translate(490.5,517) rotate(-90)">start 2</text></g>
<g id="s2_fak"><use href="#st" x="488.5" y="768"/><text class="t" transform="translate(490.5,768) rotate(-90)">start 2</text></g>
<g id="s2_ras"><use href="#st" x="488.5" y="882"/><text class="t" transform="translate(490.5,882) rotate(-90)">start 2</text></g>
<g id="s2_raf"><use href="#st" x="488.5" y="983"/><text class="t" transform="translate(490.5,983) rotate(-90)">start 2</text></g>
<g id="s2_mek"><use href="#st" x="488.5" y="1094"/><text class="t" transform="translate(490.5,1094) rotate(-90)">start 2</text></g>
<g id="s2_complex"><use href="#st" x="488.5" y="1262"/><text class="t" transform="translate(490.5,1262) rotate(-90)">start 2</text></g>
<g id="s2_erk"><use href="#st" x="488.5" y="1315"/><text class="t" transform="translate(490.5,1315) rotate(-90)">start 2</text></g>
<g id="s2_runx2"><use href="#st" x="488.5" y="1466"/><text class="t" transform="translate(490.5,1466) rotate(-90)">start 2</text></g>
<g id="e3n_bsp"><use href="#en" x="536" y="217"/><text class="t" transform="translate(538,217) rotate(-90)">end 3</text></g>
<g id="e3n_alp"><use href="#en" x="536" y="331"/><text class="t" transform="translate(538,331) rotate(-90)">end 3</text></g>
<g id="e3n_ocn"><use href="#en" x="536" y="403"/><text class="t" transform="translate(538,403) rotate(-90)">end 3</text></g>
<g id="e3n_opn"><use href="#en" x="536" y="508"/><text class="t" transform="translate(538,508) rotate(-90)">end 3</text></g>
<g id="e3n_fak"><use href="#en" x="536" y="763"/><text class="t" transform="translate(538,763) rotate(-90)">end 3</text></g>
<g id="e3n_ras"><use href="#en" x="536" y="880"/><text class="t" transform="translate(538,880) rotate(-90)">end 3</text></g>
<g id="e3n_raf"><use href="#en" x="536" y="981"/><text class="t" transform="translate(538,981) rotate(-90)">end 3</text></g>
<g id="e3n_mek"><use href="#en" x="536" y="1092"/><text class="t" transform="translate(538,1092) rotate(-90)">end 3</text></g>
<g id="e3n_complex"><use href="#en" x="536" y="1264"/><text class="t" transform="translate(538,1264) rotate(-90)">end 3</text></g>
<g id="e3n_erk"><use href="#en" x="536" y="1313"/><text class="t" transform="translate(538,1313) rotate(-90)">end 3</text></g>
<g id="e3n_runx2"><use href="#en" x="536" y="1464"/><text class="t" transform="translate(538,1464) rotate(-90)">end 3</text></g>
</g>
<g id="layer-labels">
<text class="t" transform="translate(49,1662) rotate(-90)">layer 0</text>
<text class="t" transform="translate(223,1662) rotate(-90)">layer 1</text>
<text class="t" transform="translate(411,1662) rotate(-90)">layer 2</text>
<text class="t" transform="translate(570,1662) rotate(-90)">layer 3</text>
</g>
</svg>
